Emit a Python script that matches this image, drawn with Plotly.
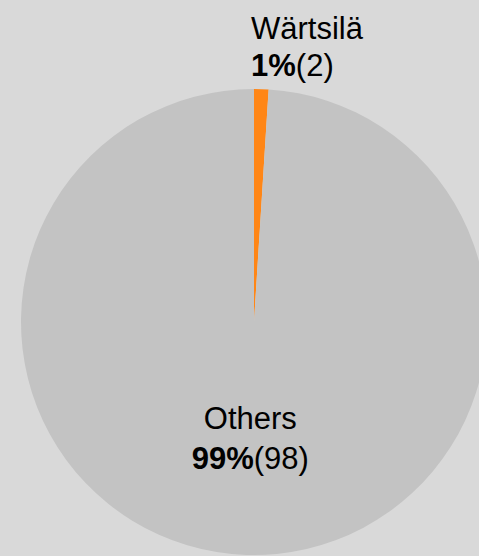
import plotly.graph_objects as go

labels = ["Wärtsilä", "Others"]
percents = [1, 99]
counts = [2, 98]
colors = ["#ff8616", "#c3c3c3"]
positions = ["none", "inside"]

FONT = "Liberation Sans, Arial, sans-serif"

fig = go.Figure(
    go.Pie(
        labels=labels,
        values=percents,
        customdata=counts,
        sort=False,
        direction="clockwise",
        rotation=0,
        marker=dict(colors=colors, line=dict(width=0)),
        texttemplate="%{label}<br><b>%{value}%</b>(%{customdata})",
        textposition=positions,
        textfont=dict(family=FONT, size=31, color="#000000"),
        insidetextorientation="horizontal",
        hoverinfo="skip",
        showlegend=False,
    )
)

# outside label for the small slice, left-aligned as in the reference (two lines)
label_lines = [labels[0], f"<b>{percents[0]}%</b>({counts[0]})"]
line_y = [1.1717, 1.0923]
for txt, yy in zip(label_lines, line_y):
    fig.add_annotation(
        text=txt,
        xref="paper", yref="paper",
        x=0.4893, y=yy,
        xanchor="left", yanchor="top",
        align="left",
        showarrow=False,
        font=dict(family=FONT, size=31, color="#000000"),
    )

fig.update_layout(
    width=487,
    height=556,
    margin=dict(l=21, r=0, t=89, b=1, autoexpand=False),
    paper_bgcolor="#d9d9d9",
    plot_bgcolor="#d9d9d9",
)

fig.write_html(
    "out.html",
    config={"displayModeBar": False},
    post_script="document.documentElement.style.overflow='hidden';document.body.style.overflow='hidden';document.body.style.margin='0';",
)
